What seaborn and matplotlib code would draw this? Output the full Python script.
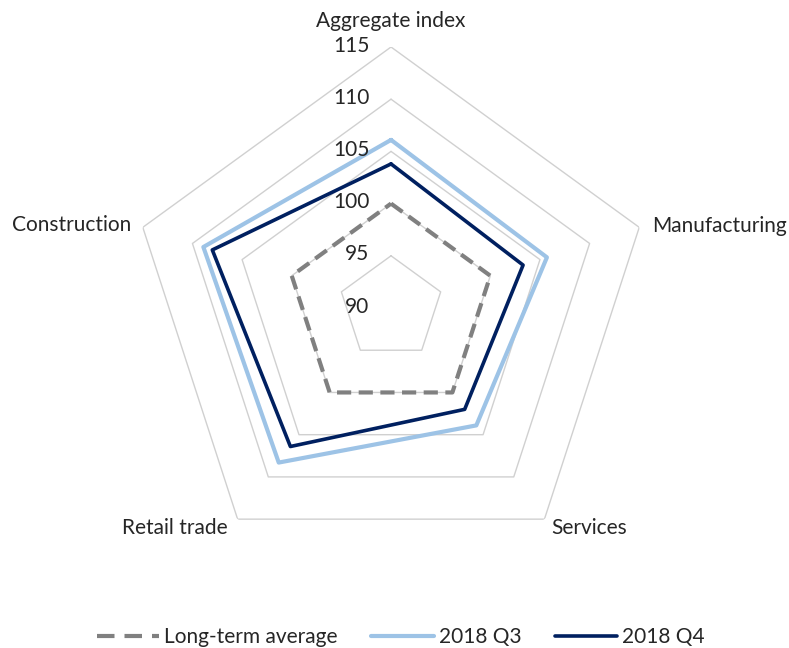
import numpy as np
import pandas as pd
import matplotlib
matplotlib.use("Agg")
import matplotlib.pyplot as plt
import seaborn as sns

categories = ["Aggregate index", "Manufacturing", "Services", "Retail trade", "Construction"]
long_term_average = [100, 100, 100, 100, 100]
q3_2018 = [106.1, 105.7, 103.9, 108.3, 108.9]
q4_2018 = [103.8, 103.3, 102.0, 106.4, 108.0]
levels = [90, 95, 100, 105, 110, 115]
level_labels = ["90", "95", "100", "105", "110", "115"]

sns.set_theme(style="white")
plt.rcParams["font.family"] = ["Lato", "DejaVu Sans"]

fig = plt.figure(figsize=(7.89, 6.48), dpi=100)
ax = fig.add_axes([0.1648, 0.1219, 0.6616, 0.8056], projection="polar")
ax.set_theta_offset(np.pi / 2)
ax.set_theta_direction(-1)

n = len(categories)
angles = np.linspace(0, 2 * np.pi, n, endpoint=False)
closed_angles = np.append(angles, angles[0])

# polygon gridlines
for lv in levels[1:]:
    ax.plot(closed_angles, [lv] * (n + 1), color="#D0D0D0", lw=1.0, zorder=1)

series = [
    ("Long-term average", long_term_average, "#808080", 3.0, (0, (3.4, 1.8))),
    ("2018 Q3", q3_2018, "#9DC3E6", 3.0, "-"),
    ("2018 Q4", q4_2018, "#002060", 2.6, "-"),
]
for name, vals, col, lw, ls in series:
    df = pd.DataFrame({"theta": closed_angles, "r": list(vals) + [vals[0]]})
    sns.lineplot(data=df, x="theta", y="r", ax=ax, sort=False, estimator=None,
                 color=col, lw=lw, linestyle=ls, label=name, zorder=3)

ax.set_ylim(levels[0], levels[-1])
ax.grid(False)
ax.spines["polar"].set_visible(False)
ax.set_xticks([])
ax.set_yticks([])
ax.set_xlabel("")
ax.set_ylabel("")

# radial labels
for lv, lab in zip(levels, level_labels):
    ax.annotate(lab, xy=(0, lv), xytext=(-15.5, 1), textcoords="offset points",
                ha="right", va="center", fontsize=15, color="#262626")

# category labels
offsets = [((0, 19), "center", "center"),
           ((9, 1), "left", "center"),
           ((5, -6.5), "left", "center"),
           ((-7, -6.5), "right", "center"),
           ((-8, 2), "right", "center")]
for ang, cat, (off, ha, va) in zip(angles, categories, offsets):
    ax.annotate(cat, xy=(ang, levels[-1]), xytext=off, textcoords="offset points",
                ha=ha, va=va, fontsize=15, color="#262626", annotation_clip=False)

handles, labels = ax.get_legend_handles_labels()
ax.get_legend().remove()
leg = fig.legend(handles, labels, loc="lower center", bbox_to_anchor=(0.508, -0.028), ncol=3,
                 frameon=False, fontsize=15, handlelength=3.0, columnspacing=1.6,
                 handletextpad=0.25)
leg.get_lines()[0].set_dashes((4.2, 2.4))

fig.savefig("out.png", dpi=100)
